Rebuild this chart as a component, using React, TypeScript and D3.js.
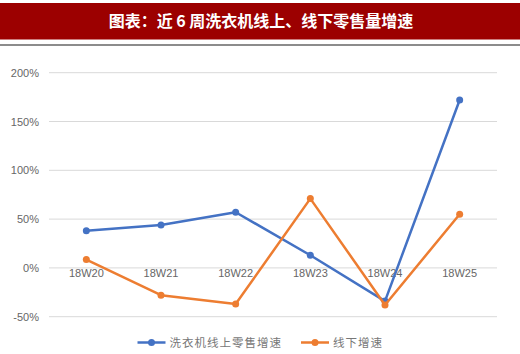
import React from "react";
import * as d3 from "d3";

const categories = ["18W20", "18W21", "18W22", "18W23", "18W24", "18W25"];
const onlineValues = [38, 44, 57, 13, -34, 172];
const offlineValues = [8.5, -28, -37, 71, -38, 55];
const yTicks = [-50, 0, 50, 100, 150, 200];
const seriesNames = ["洗衣机线上零售增速", "线下增速"];
const title = "图表：近 6 周洗衣机线上、线下零售量增速";

const W = 520;
const H = 354;
const BLUE = "#4472C4";
const ORANGE = "#ED7D31";

export default function App() {
  const x = d3.scaleBand<string>().domain(categories).range([49, 497]);
  const y = d3.scaleLinear().domain([-50, 200]).range([316.7, 72.7]);
  const cx = (c: string) => (x(c) as number) + x.bandwidth() / 2;
  const line = d3
    .line<number>()
    .x((_, i) => cx(categories[i]))
    .y((d) => y(d));
  const font = "'Liberation Sans', Arial, sans-serif";
  const cjk = "'Noto Sans CJK SC', sans-serif";
  const series = [
    { name: seriesNames[0], values: onlineValues, color: BLUE },
    { name: seriesNames[1], values: offlineValues, color: ORANGE },
  ];
  const legendX = [137.5, 301];
  return (
    <div style={{ position: "fixed", left: 0, top: 0 }}>
      <svg width={W} height={H} style={{ display: "block", background: "#fff" }}>
        <rect x={0} y={3} width={W} height={36.5} fill="#9C0000" />
        <text
          x={261}
          y={27}
          textAnchor="middle"
          fill="#fff"
          fontFamily={cjk}
          fontWeight="bold"
          fontSize={16}
          style={{ whiteSpace: "pre" }}
        >
          {title}
        </text>
        <rect x={0} y={44} width={W} height={2} fill="#8c8c8c" />
        {yTicks.map((t) => (
          <g key={t}>
            <line x1={49} x2={497} y1={y(t)} y2={y(t)} stroke="#D9D9D9" strokeWidth={1} />
            <text
              x={39}
              y={y(t) + 4}
              textAnchor="end"
              fill="#666"
              fontFamily={font}
              fontSize={11}
            >
              {t + "%"}
            </text>
          </g>
        ))}
        {categories.map((c) => (
          <text
            key={c}
            x={cx(c)}
            y={y(0) + 9}
            textAnchor="middle"
            fill="#666"
            fontFamily={font}
            fontSize={11}
          >
            {c}
          </text>
        ))}
        {series.map((s) => (
          <g key={s.name}>
            <path d={line(s.values) || ""} fill="none" stroke={s.color} strokeWidth={2.5} strokeLinejoin="round" />
            {s.values.map((v, i) => (
              <circle key={i} cx={cx(categories[i])} cy={y(v)} r={3.5} fill={s.color} />
            ))}
          </g>
        ))}
        {series.map((s, i) => (
          <g key={"lg" + i}>
            <line x1={legendX[i]} x2={legendX[i] + 28} y1={342.5} y2={342.5} stroke={s.color} strokeWidth={2.5} />
            <circle cx={legendX[i] + 14} cy={342.5} r={3.5} fill={s.color} />
            <text
              x={legendX[i] + 32}
              y={346.5}
              fill="#777"
              fontFamily={cjk}
              fontSize={11.5}
              letterSpacing={1}
            >
              {s.name}
            </text>
          </g>
        ))}
      </svg>
    </div>
  );
}
